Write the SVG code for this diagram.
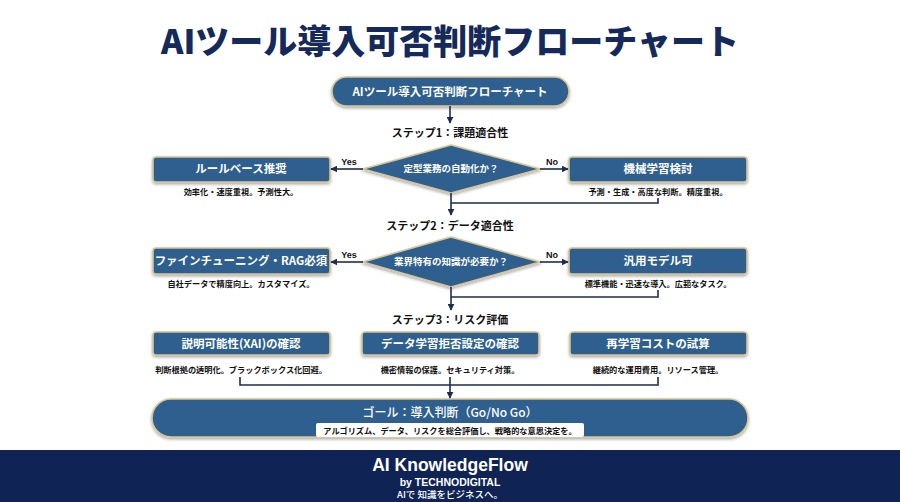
<svg xmlns="http://www.w3.org/2000/svg" width="900" height="502" viewBox="0 0 900 502">
<defs>
<filter id="sh" x="-10%" y="-30%" width="120%" height="160%">
<feDropShadow dx="0" dy="1.5" stdDeviation="1.5" flood-color="#000" flood-opacity="0.35"/>
</filter>
<marker id="ah" viewBox="0 0 10 10" refX="9" refY="5" markerWidth="7" markerHeight="7" markerUnits="userSpaceOnUse" orient="auto">
<path d="M0,0 L10,5 L0,10 z" fill="#1c2e4f"/>
</marker>
<style>
.jp{font-family:"Noto Sans CJK JP","Noto Sans",sans-serif;}
.node{fill:#2e5f8e;stroke:#d6c593;stroke-width:1.6;filter:url(#sh);}
.nt{fill:#ffffff;font-size:11.5px;font-weight:700;text-anchor:middle;}
.sub{fill:#111111;font-size:8.2px;font-weight:700;text-anchor:middle;}
.step{fill:#111111;font-size:11px;font-weight:700;text-anchor:middle;}
.lbl{fill:#111111;font-size:9px;font-weight:700;text-anchor:middle;font-family:"Liberation Sans",Arial,sans-serif;}
.dt{fill:#ffffff;font-size:9.5px;font-weight:700;text-anchor:middle;}
.cn{fill:none;stroke:#1c2e4f;stroke-width:1.6;}
.ft{fill:#ffffff;text-anchor:middle;font-weight:700;font-family:"Liberation Sans",Arial,sans-serif;}
</style>
</defs>
<rect x="0" y="0" width="900" height="502" fill="#ffffff"/>
<text class="jp" x="450" y="54" font-size="34" font-weight="900" fill="#15295a" text-anchor="middle">AIツール導入可否判断フローチャート</text>

<g id="start">
<rect class="node" x="332" y="77" width="237" height="29" rx="14.5"/>
<text class="jp nt" x="450" y="96" font-size="11">AIツール導入可否判断フローチャート</text>
</g>

<g id="step1">
<text class="jp step" x="450" y="137">ステップ1：課題適合性</text>
</g>
<g id="q1">
<polygon class="node" points="451,145 540,169 451,193 363,169"/>
<text class="jp dt" x="451" y="172">定型業務の自動化か？</text>
</g>
<g id="rulebase">
<rect class="node" x="153" y="157" width="177" height="25" rx="3"/>
<text class="jp nt" x="241" y="173">ルールベース推奨</text>
<text class="jp sub" x="241" y="195">効率化・速度重視。予測性大。</text>
</g>
<g id="ml">
<rect class="node" x="569" y="157" width="178" height="25" rx="3"/>
<text class="jp nt" x="658" y="173">機械学習検討</text>
<text class="jp sub" x="658" y="195">予測・生成・高度な判断。精度重視。</text>
</g>

<g id="step2">
<text class="jp step" x="450" y="230">ステップ2：データ適合性</text>
</g>
<g id="q2">
<polygon class="node" points="451,237 540,262 451,287 363,262"/>
<text class="jp dt" x="451" y="265">業界特有の知識が必要か？</text>
</g>
<g id="finetune">
<rect class="node" x="153" y="248" width="177" height="26" rx="3"/>
<text class="jp nt" x="241" y="265">ファインチューニング・RAG必須</text>
<text class="jp sub" x="241" y="287">自社データで精度向上。カスタマイズ。</text>
</g>
<g id="general">
<rect class="node" x="569" y="248" width="178" height="26" rx="3"/>
<text class="jp nt" x="658" y="265">汎用モデル可</text>
<text class="jp sub" x="658" y="287">標準機能・迅速な導入。広範なタスク。</text>
</g>

<g id="step3">
<text class="jp step" x="450" y="324">ステップ3：リスク評価</text>
</g>
<g id="xai">
<rect class="node" x="153" y="332" width="177" height="23" rx="3"/>
<text class="jp nt" x="241" y="347.5">説明可能性(XAI)の確認</text>
<text class="jp sub" x="241" y="373">判断根拠の透明化。ブラックボックス化回避。</text>
</g>
<g id="optout">
<rect class="node" x="362" y="332" width="177" height="23" rx="3"/>
<text class="jp nt" x="450" y="347.5">データ学習拒否設定の確認</text>
<text class="jp sub" x="450" y="373">機密情報の保護。セキュリティ対策。</text>
</g>
<g id="retrain">
<rect class="node" x="570" y="332" width="177" height="23" rx="3"/>
<text class="jp nt" x="658" y="347.5">再学習コストの試算</text>
<text class="jp sub" x="658" y="373">継続的な運用費用。リソース管理。</text>
</g>

<g id="goal">
<rect class="node" x="152" y="399" width="596" height="38" rx="19"/>
<text class="jp" x="450" y="417" font-size="12" font-weight="500" fill="#ffffff" text-anchor="middle">ゴール：導入判断（Go/No Go）</text>
<rect x="316" y="423" width="268" height="14" rx="2" fill="#ffffff"/>
<text class="jp sub" x="450" y="433.5">アルゴリズム、データ、リスクを総合評価し、戦略的な意思決定を。</text>
</g>

<g id="connectors">
<line class="cn" x1="450" y1="106" x2="450" y2="123" marker-end="url(#ah)"/>
<line class="cn" x1="363" y1="169" x2="331" y2="169" marker-end="url(#ah)"/>
<text class="lbl" x="349" y="165">Yes</text>
<line class="cn" x1="540" y1="169" x2="568" y2="169" marker-end="url(#ah)"/>
<text class="lbl" x="552" y="165">No</text>
<line class="cn" x1="451" y1="193" x2="451" y2="215" marker-end="url(#ah)"/>
<polyline class="cn" points="658,198 658,203 451,203"/>
<line class="cn" x1="363" y1="262" x2="331" y2="262" marker-end="url(#ah)"/>
<text class="lbl" x="349" y="258">Yes</text>
<line class="cn" x1="540" y1="262" x2="568" y2="262" marker-end="url(#ah)"/>
<text class="lbl" x="552" y="258">No</text>
<line class="cn" x1="451" y1="287" x2="451" y2="310" marker-end="url(#ah)"/>
<polyline class="cn" points="658,290 658,297 451,297"/>
<polyline class="cn" points="240,377 240,385 658,385 658,377"/>
<line class="cn" x1="450" y1="377" x2="450" y2="385"/>
<line class="cn" x1="450" y1="385" x2="450" y2="398" marker-end="url(#ah)"/>
</g>

<g id="footer">
<rect x="0" y="450" width="900" height="52" fill="#0f2454"/>
<text class="ft" x="450" y="471" font-size="17.5">AI KnowledgeFlow</text>
<text class="ft" x="450" y="485.5" font-size="10.5">by TECHNODIGITAL</text>
<text class="jp" x="450" y="498" font-size="9.5" font-weight="500" fill="#ffffff" text-anchor="middle">AIで 知識をビジネスへ。</text>
</g>
</svg>
